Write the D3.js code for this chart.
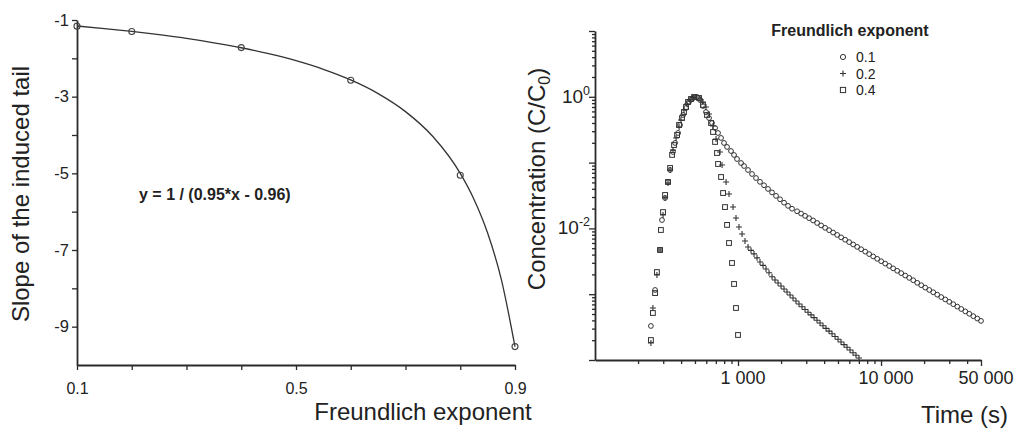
<!DOCTYPE html>
<html>
<head>
<meta charset="utf-8">
<script src="https://cdn.jsdelivr.net/npm/d3@7/dist/d3.min.js"></script>
<style>
  html, body { margin: 0; padding: 0; background: #fff; }
  svg { display: block; }
  text { font-family: 'Liberation Sans', Arial, sans-serif; fill: #222; }
</style>
</head>
<body>
<div id="chart"></div>
<script>
// ---------------- Left panel data ----------------
const slopeExponents = [0.1, 0.2, 0.4, 0.6, 0.8, 0.9];
const slopeValues    = [-1.16, -1.30, -1.72, -2.57, -5.05, -9.52];
const fitExponents = [0.1, 0.15, 0.2, 0.25, 0.3, 0.35, 0.4, 0.45, 0.5, 0.55, 0.6, 0.65, 0.7, 0.75, 0.8, 0.825, 0.85, 0.875, 0.9];
const fitSlopes    = [-1.156, -1.223, -1.299, -1.384, -1.481, -1.594, -1.724, -1.878, -2.062, -2.286, -2.564, -2.920, -3.390, -4.040, -5.000, -5.674, -6.557, -7.767, -9.524];
const leftXTickLabels = [0.1, 0.5, 0.9];
const leftXMinorTicks = [0.2, 0.3, 0.4, 0.6, 0.7, 0.8];
const leftYTickLabels = [-1, -3, -5, -7, -9];
const leftYMinorTicks = [-2, -4, -6, -8];
const equationText = "y = 1 / (0.95*x - 0.96)";
const leftXTitle = "Freundlich exponent";
const leftYTitle = "Slope of the induced tail";

// ---------------- Right panel data ----------------
// Freundlich exponent 0.1 (circles)
const circleTime = [246, 263, 285, 294, 309, 324, 335, 351, 363, 381, 393, 413, 433, 454, 477, 493,
  517, 543, 569, 597, 627, 658, 691, 725, 761, 798, 838, 893, 938, 984, 1050, 1102, 1175, 1253, 1336, 1425,
  1520, 1621, 1729, 1844, 1967, 2098, 2237, 2386,
  2588, 2761, 2944, 3141, 3350, 3573, 3811, 4064, 4335, 4624, 4932, 5260, 5610, 5984, 6383, 6808, 7261, 7745,
  8260, 8810, 9397, 10023, 10690, 11400, 12160, 12970, 13840, 14760, 15740, 16790, 17910, 19100, 20370, 21730,
  23170, 24720, 26360, 28120, 29990, 31990, 34120, 36390, 38820, 41400, 44160, 47100, 50000];
const circleConc = [3.29e-4, 1.16e-3, 4.70e-3, 1.34e-2, 2.90e-2, 5.07e-2, 7.72e-2, 0.145, 0.199, 0.282, 0.373, 0.529, 0.676, 0.834, 0.926, 0.976,
  0.993, 0.894, 0.725, 0.587, 0.476, 0.400, 0.336, 0.282, 0.237, 0.199, 0.173, 0.150, 0.1305, 0.1135, 0.0986, 0.0888, 0.0772, 0.0671, 0.0583, 0.0510,
  0.0452, 0.0398, 0.0352, 0.0312, 0.0277, 0.0246, 0.0220, 0.0199,
  1.82e-2, 1.68e-2, 1.55e-2, 1.43e-2, 1.32e-2, 1.21e-2, 1.11e-2, 1.02e-2, 9.40e-3, 8.65e-3, 7.96e-3, 7.31e-3, 6.73e-3, 6.19e-3, 5.70e-3, 5.24e-3, 4.82e-3, 4.44e-3,
  4.07e-3, 3.75e-3, 3.45e-3, 3.17e-3, 2.92e-3, 2.69e-3, 2.47e-3, 2.27e-3, 2.09e-3, 1.92e-3, 1.77e-3, 1.63e-3, 1.49e-3, 1.37e-3, 1.26e-3, 1.16e-3,
  1.07e-3, 9.84e-4, 9.04e-4, 8.32e-4, 7.66e-4, 7.05e-4, 6.48e-4, 5.96e-4, 5.48e-4, 5.04e-4, 4.63e-4, 4.27e-4, 3.93e-4];
// Freundlich exponent 0.2 (plus)
const plusTime = [246, 254, 271, 285, 299, 309, 324, 335, 351, 369, 387, 399, 419, 440, 462, 485, 509,
  543, 569, 597, 627, 669, 702, 748, 773, 825, 865, 923, 968, 1016, 1067, 1119,
  1175, 1233, 1294, 1358, 1425, 1496, 1570, 1647, 1729, 1814, 1904, 1998, 2097, 2201, 2310, 2424, 2544, 2670, 2802,
  2941, 3086, 3239, 3399, 3567, 3744, 3929, 4124, 4328, 4542, 4767, 5003, 5250, 5510, 5783, 6069, 6369, 6684, 7015];
const plusConc = [1.81e-4, 6.17e-4, 1.96e-3, 4.70e-3, 1.60e-2, 2.90e-2, 4.90e-2, 7.72e-2, 0.155, 0.237, 0.348, 0.444, 0.630, 0.777, 0.894, 0.976, 0.993,
  0.926, 0.834, 0.700, 0.548, 0.360, 0.228, 0.145, 0.0919, 0.0507, 0.0333, 0.0211, 0.0144, 0.0105, 8.22e-3, 6.43e-3,
  5.22e-3, 4.63e-3, 4.10e-3, 3.57e-3, 3.09e-3, 2.74e-3, 2.42e-3, 2.12e-3, 1.84e-3, 1.64e-3, 1.48e-3, 1.33e-3, 1.20e-3, 1.08e-3, 9.72e-4, 8.75e-4, 7.88e-4, 7.10e-4, 6.43e-4,
  5.85e-4, 5.32e-4, 4.85e-4, 4.41e-4, 4.01e-4, 3.65e-4, 3.32e-4, 3.02e-4, 2.75e-4, 2.50e-4, 2.28e-4, 2.07e-4, 1.88e-4, 1.71e-4, 1.56e-4, 1.42e-4, 1.29e-4, 1.18e-4, 1.07e-4];
// Freundlich exponent 0.4 (squares)
const squareTime = [246, 254, 263, 271, 285, 289, 299, 309, 324, 335, 346, 357, 375, 387, 406, 419, 433, 447, 469, 493,
  534, 569, 607, 648, 669, 691, 713, 725, 761, 786, 811, 838, 865, 908, 938, 968, 1000];
const squareConc = [2.01e-4, 5.18e-4, 1.04e-3, 2.17e-3, 4.70e-3, 9.46e-3, 1.77e-2, 3.22e-2, 5.07e-2, 8.28e-2, 0.131, 0.185, 0.263, 0.373, 0.476, 0.587, 0.700, 0.834, 0.926, 0.993,
  0.959, 0.750, 0.529, 0.400, 0.292, 0.206, 0.140, 0.0953, 0.0604, 0.0345, 0.0211, 0.0113, 6.00e-3, 2.98e-3, 1.43e-3, 6.17e-4, 2.40e-4];

const legendTitle = "Freundlich exponent";
const legendLabels = ["0.1", "0.2", "0.4"];
const legendSymbols = ["circle", "plus", "square"];
const rightXTickValues = [1000, 10000, 50000];
const rightXTickLabels = ["1 000", "10 000", "50 000"];
const rightXMinorTicks = [200, 300, 400, 500, 600, 700, 800, 900, 2000, 3000, 4000, 5000, 6000, 7000, 8000, 9000, 20000, 30000, 40000];
const rightYTickValues = [1, 0.01];
const rightYTickExponents = ["0", "-2"];
const rightYMajorTicks = [1e-4, 1e-3, 1e-2, 1e-1, 1, 10];
const rightXTitle = "Time (s)";
const rightYTitle = "Concentration (C/C";
const rightYTitleSub = "0";

// ---------------- Drawing ----------------
const INK = "#2a2a2a";
const svg = d3.select("#chart").append("svg").attr("width", 1032).attr("height", 430);

function styleAxis(g, width) {
  g.selectAll(".domain").attr("stroke", INK).attr("stroke-width", width);
  g.selectAll(".tick line").attr("stroke", INK).attr("stroke-width", 1.3);
}

// ===== Left panel =====
const xL = d3.scaleLinear().domain([0.1, 0.9]).range([77, 515]);
const yL = d3.scaleLinear().domain([-10, -1]).range([365, 20]);

const gLy = svg.append("g").attr("transform", "translate(77,0)")
  .call(d3.axisLeft(yL).tickValues(leftYTickLabels).tickSize(5).tickSizeOuter(0).tickPadding(3).tickFormat(d => String(d)));
gLy.selectAll("text").attr("font-size", 16.5).attr("fill", "#333");
svg.append("g").attr("transform", "translate(77,0)")
  .call(d3.axisLeft(yL).tickValues(leftYMinorTicks).tickSize(5).tickSizeOuter(0).tickFormat(""))
  .call(g => g.select(".domain").remove())
  .call(g => styleAxis(g, 1.8));
styleAxis(gLy, 1.8);

const gLx = svg.append("g").attr("transform", "translate(0,365)")
  .call(d3.axisBottom(xL).tickValues(leftXTickLabels).tickSize(5).tickSizeOuter(0).tickPadding(13).tickFormat(d3.format(".1f")));
gLx.selectAll("text").attr("font-size", 16).attr("fill", "#333");
styleAxis(gLx, 1.8);
svg.append("g").attr("transform", "translate(0,365)")
  .call(d3.axisBottom(xL).tickValues(leftXMinorTicks).tickSize(5).tickSizeOuter(0).tickFormat(""))
  .call(g => g.select(".domain").remove())
  .call(g => styleAxis(g, 1.8));

// fit curve
const fitLine = d3.line().x((d, i) => xL(fitExponents[i])).y(d => yL(d)).curve(d3.curveMonotoneX);
svg.append("path").datum(fitSlopes).attr("d", fitLine)
  .attr("fill", "none").attr("stroke", "#333").attr("stroke-width", 1.3);

svg.append("g").selectAll("circle").data(slopeValues).join("circle")
  .attr("cx", (d, i) => xL(slopeExponents[i])).attr("cy", d => yL(d)).attr("r", 3)
  .attr("fill", "none").attr("stroke", "#444").attr("stroke-width", 1.1);

svg.append("text").attr("x", 139).attr("y", 200).attr("font-size", 16).attr("font-weight", "bold")
  .text(equationText);

svg.append("text").attr("transform", "translate(29,194) rotate(-90)").attr("text-anchor", "middle")
  .attr("font-size", 24).text(leftYTitle);
svg.append("text").attr("x", 423).attr("y", 420).attr("text-anchor", "middle")
  .attr("font-size", 24).text(leftXTitle);

// ===== Right panel =====
const xR = d3.scaleLog().domain([100, 50000]).range([595, 981]);
const yR = d3.scaleLog().domain([1e-4, 10]).range([360, 31]);

const rightYMinor = [];
rightYMajorTicks.slice(0, -1).forEach(d => { for (let k = 2; k <= 9; k++) rightYMinor.push(d * k); });

const gRy = svg.append("g").attr("transform", "translate(595,0)")
  .call(d3.axisLeft(yR).tickValues(rightYMajorTicks).tickSize(6).tickSizeOuter(0).tickFormat(""));
styleAxis(gRy, 1.8);
svg.append("g").attr("transform", "translate(595,0)")
  .call(d3.axisLeft(yR).tickValues(rightYMinor).tickSize(3).tickSizeOuter(0).tickFormat(""))
  .call(g => g.select(".domain").remove())
  .call(g => styleAxis(g, 1.8));

const gRx = svg.append("g").attr("transform", "translate(0,360)")
  .call(d3.axisBottom(xR).tickValues(rightXTickValues).tickSize(6).tickSizeOuter(0).tickFormat(""));
styleAxis(gRx, 1.8);
svg.append("g").attr("transform", "translate(0,360)")
  .call(d3.axisBottom(xR).tickValues(rightXMinorTicks).tickSize(4).tickSizeOuter(0).tickFormat(""))
  .call(g => g.select(".domain").remove())
  .call(g => styleAxis(g, 1.8));

// x tick labels
svg.append("g").selectAll("text").data(rightXTickValues).join("text")
  .attr("x", d => xR(d) + 5).attr("y", 384).attr("text-anchor", "middle")
  .attr("font-size", 18).attr("fill", "#333")
  .text((d, i) => rightXTickLabels[i]);

// y tick labels with superscripts
const yLab = svg.append("g").selectAll("text").data(rightYTickValues).join("text")
  .attr("x", 590).attr("y", d => yR(d) + 6).attr("text-anchor", "end")
  .attr("font-size", 19).attr("fill", "#333");
yLab.append("tspan").text("10");
yLab.append("tspan").attr("font-size", 12.5).attr("dy", -8).text((d, i) => rightYTickExponents[i]);

// markers
const mStroke = "#333";
svg.append("g").selectAll("circle").data(circleConc).join("circle")
  .attr("cx", (d, i) => xR(circleTime[i])).attr("cy", d => yR(d)).attr("r", 2.4)
  .attr("fill", "none").attr("stroke", mStroke).attr("stroke-width", 1);
svg.append("g").selectAll("path").data(plusConc).join("path")
  .attr("transform", (d, i) => `translate(${xR(plusTime[i])},${yR(d)})`)
  .attr("d", "M-3,0H3M0,-3V3")
  .attr("fill", "none").attr("stroke", mStroke).attr("stroke-width", 1.1);
svg.append("g").selectAll("rect").data(squareConc).join("rect")
  .attr("x", (d, i) => xR(squareTime[i]) - 2.4).attr("y", d => yR(d) - 2.4)
  .attr("width", 4.8).attr("height", 4.8)
  .attr("fill", "none").attr("stroke", mStroke).attr("stroke-width", 1);

// axis titles
const ryt = svg.append("text").attr("transform", "translate(545,179) rotate(-90)").attr("text-anchor", "middle")
  .attr("font-size", 24);
ryt.append("tspan").text(rightYTitle);
ryt.append("tspan").attr("font-size", 16).attr("dy", 5).text(rightYTitleSub);
ryt.append("tspan").attr("dy", -5).text(")");

svg.append("text").attr("x", 1008).attr("y", 423).attr("text-anchor", "end")
  .attr("font-size", 24).text(rightXTitle);

// legend
svg.append("text").attr("x", 850).attr("y", 36).attr("text-anchor", "middle")
  .attr("font-size", 16).attr("font-weight", "bold").text(legendTitle);
const leg = svg.append("g").selectAll("g").data(legendLabels).join("g")
  .attr("transform", (d, i) => `translate(843,${57 + i * 16.5})`);
leg.each(function (d, i) {
  const g = d3.select(this);
  const s = legendSymbols[i];
  if (s === "circle") g.append("circle").attr("r", 2.6).attr("fill", "none").attr("stroke", mStroke).attr("stroke-width", 1);
  if (s === "plus") g.append("path").attr("d", "M-3,0H3M0,-3V3").attr("stroke", mStroke).attr("stroke-width", 1.1);
  if (s === "square") g.append("rect").attr("x", -2.6).attr("y", -2.6).attr("width", 5.2).attr("height", 5.2)
    .attr("fill", "none").attr("stroke", mStroke).attr("stroke-width", 1);
  g.append("text").attr("x", 13).attr("y", 5).attr("font-size", 14).attr("fill", "#333").text(d);
});
</script>
</body>
</html>
